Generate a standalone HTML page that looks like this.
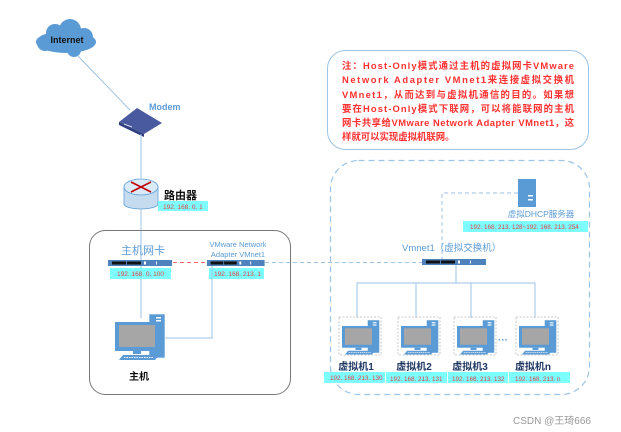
<!DOCTYPE html>
<html><head><meta charset="utf-8"><style>
html,body{margin:0;padding:0;background:#fff;}
svg{display:block;}
text{font-family:"Liberation Sans","Noto Sans CJK SC",sans-serif;}
</style></head><body>
<svg width="621" height="432" viewBox="0 0 621 432" xmlns="http://www.w3.org/2000/svg">
<defs>
<g id="pc">
  <rect x="34" y="0" width="16" height="44" fill="#5b9bd5" stroke="#fff" stroke-width="0.6"/>
  <rect x="41" y="3" width="5" height="1.5" fill="#fff"/>
  <rect x="41" y="6" width="5" height="1.5" fill="#fff"/>
  <rect x="0" y="8" width="44" height="29" fill="#5b9bd5"/>
  <rect x="4" y="11" width="36" height="22" fill="#a6a6a6"/>
  <rect x="18" y="37" width="8" height="3" fill="#5b9bd5"/>
  <polygon points="4,46 40,46 44,41 8,41" fill="#5b9bd5"/>
  <line x1="9" y1="43.5" x2="39" y2="43.5" stroke="#fff" stroke-width="1" stroke-dasharray="1.5 1"/>
</g>
<g id="vpc">
  <rect x="-3" y="-3" width="42" height="38" fill="none" stroke="#bbb" stroke-width="0.8" stroke-dasharray="2 1.5"/>
  <g transform="scale(0.75)"><use href="#pc"/></g>
</g>
<g id="nic">
  <rect x="0" y="0" width="64" height="6" fill="#4f81bd"/>
  <rect x="4" y="1.5" width="14" height="3" fill="#111"/>
  <rect x="19" y="1.5" width="14" height="3" fill="#111"/>
  <rect x="36" y="1.5" width="2" height="3" fill="#fff"/>
  <rect x="48" y="1.5" width="1" height="3" fill="#fff"/>
</g>
</defs>

<g fill="#5b9bd5">
<ellipse cx="66" cy="42" rx="30" ry="11"/>
<circle cx="55" cy="33" r="9"/><circle cx="70" cy="30" r="11"/><circle cx="84" cy="37" r="9"/>
<circle cx="45" cy="43" r="8"/><circle cx="74" cy="50" r="7"/>
</g>
<text x="67" y="43" font-size="9" font-weight="bold" text-anchor="middle" fill="#111">Internet</text>
<line x1="78" y1="56" x2="130" y2="110" stroke="#9dc3e6" stroke-width="1"/>

<polygon points="119,122 137,108 162,123 144,134" fill="#4a5a9f"/>
<polygon points="119,122 144,134 144,137 119,125" fill="#2f3f80"/>
<line x1="124" y1="124" x2="132" y2="127" stroke="#fff" stroke-width="0.8"/>
<text x="149" y="110" font-size="9" font-weight="bold" fill="#5b9bd5">Modem</text>
<line x1="141" y1="134" x2="141" y2="178" stroke="#9dc3e6"/>

<rect x="124" y="187" width="34" height="17" fill="#c5dcf0" stroke="#5b9bd5" stroke-width="0.8"/>
<ellipse cx="141" cy="204" rx="17" ry="5" fill="#c5dcf0" stroke="#5b9bd5" stroke-width="0.8"/>
<rect x="124.4" y="187" width="33.2" height="17" fill="#c5dcf0"/>
<ellipse cx="141" cy="187" rx="17" ry="8" fill="#dbeaf7" stroke="#5b9bd5" stroke-width="0.8"/>
<g stroke="#c00000" stroke-width="1.6">
<line x1="131" y1="182" x2="151" y2="192"/><line x1="131" y1="192" x2="151" y2="182"/>
</g>
<text x="164" y="199" font-size="11" font-weight="bold" fill="#111">路由器</text>
<rect x="158" y="201" width="50" height="10" fill="#66ffff" opacity="0.85"/>
<text x="163" y="209" font-size="6.5" fill="#e04040">192. 168. 0. 1</text>
<line x1="141" y1="208" x2="141" y2="318" stroke="#9dc3e6"/>

<rect x="89.5" y="230.5" width="201" height="164" rx="16" fill="none" stroke="#777" stroke-width="1"/>
<text x="121" y="254" font-size="11" fill="#5b9bd5">主机网卡</text>
<use href="#nic" x="108" y="260"/>
<rect x="110" y="268" width="61" height="11" fill="#66ffff" opacity="0.85"/>
<text x="117" y="276" font-size="6.5" fill="#e04040">192. 168. 0. 100</text>
<line x1="173" y1="262.5" x2="207" y2="262.5" stroke="#ff6b6b" stroke-dasharray="4 3"/>
<text x="238" y="247" font-size="7.5" fill="#5b9bd5" text-anchor="middle">VMware Network</text>
<text x="238" y="257" font-size="7.5" fill="#5b9bd5" text-anchor="middle">Adapter VMnet1</text>
<g transform="translate(207,260) scale(0.9,1)"><use href="#nic"/></g>
<rect x="209" y="268" width="55" height="11" fill="#66ffff" opacity="0.85"/>
<text x="214" y="276" font-size="6.5" fill="#e04040">192. 168. 213. 1</text>
<line x1="265" y1="262.5" x2="422" y2="262.5" stroke="#9dc3e6" stroke-dasharray="4 3"/>
<polyline points="212,266 212,338 165,338" fill="none" stroke="#9dc3e6"/>
<use href="#pc" x="115" y="314"/>
<text x="139" y="380" font-size="10" font-weight="bold" text-anchor="middle" fill="#111">主机</text>

<rect x="327.5" y="50.5" width="261" height="99" rx="18" fill="none" stroke="#9dc3e6" stroke-width="1"/>
<g font-size="9.4" font-weight="bold" fill="#ff3030">
<text x="342" y="69" textLength="232" lengthAdjust="spacing">注：Host-Only模式通过主机的虚拟网卡VMware</text>
<text x="342" y="83" textLength="232" lengthAdjust="spacing">Network Adapter VMnet1来连接虚拟交换机</text>
<text x="342" y="98" textLength="232" lengthAdjust="spacing">VMnet1，从而达到与虚拟机通信的目的。如果想</text>
<text x="342" y="112" textLength="232" lengthAdjust="spacing">要在Host-Only模式下联网，可以将能联网的主机</text>
<text x="342" y="126" textLength="232" lengthAdjust="spacing">网卡共享给VMware Network Adapter VMnet1，这</text>
<text x="342" y="140">样就可以实现虚拟机联网。</text>
</g>

<rect x="330.5" y="160.5" width="259" height="234" rx="28" fill="none" stroke="#9dc3e6" stroke-width="1.2" stroke-dasharray="6 4"/>
<rect x="518" y="179" width="18" height="28" fill="#5b9bd5"/>
<rect x="528" y="195" width="5" height="1.5" fill="#fff"/><rect x="528" y="199" width="5" height="1.5" fill="#fff"/>
<polyline points="518,193 442,193 442,260" fill="none" stroke="#9dc3e6" stroke-dasharray="4 3"/>
<text x="541" y="217" font-size="8.5" text-anchor="middle" fill="#5b9bd5">虚拟DHCP服务器</text>
<rect x="463" y="221" width="125" height="11" fill="#66ffff" opacity="0.85"/>
<text x="470" y="229" font-size="6.3" fill="#e04040">192. 168. 213. 128~192. 168. 213. 254</text>
<text x="402" y="251" font-size="9.5" fill="#5b9bd5">Vmnet1（虚拟交换机）</text>
<use href="#nic" x="422" y="259"/>
<line x1="456" y1="265" x2="456" y2="283" stroke="#9dc3e6"/>
<polyline points="357,318 357,283 535,283 535,318" fill="none" stroke="#9dc3e6"/>
<line x1="416" y1="283" x2="416" y2="318" stroke="#9dc3e6"/>
<line x1="471" y1="283" x2="471" y2="318" stroke="#9dc3e6"/>
<use href="#vpc" x="342" y="320"/>
<use href="#vpc" x="401" y="320"/>
<use href="#vpc" x="457" y="320"/>
<use href="#vpc" x="519" y="320"/>
<text x="498" y="343" font-size="10" font-weight="bold" fill="#5b9bd5">···</text>
<g font-size="10" font-weight="bold" fill="#1f3864" text-anchor="middle">
<text x="356" y="370">虚拟机1</text><text x="414" y="370">虚拟机2</text>
<text x="470" y="370">虚拟机3</text><text x="533" y="370">虚拟机n</text>
</g>
<g fill="#66ffff" opacity="0.85">
<rect x="324" y="372" width="61" height="11"/><rect x="386" y="372" width="61" height="11"/>
<rect x="448" y="372" width="60" height="11"/><rect x="509" y="372" width="61" height="11"/>
</g>
<g font-size="6.3" fill="#e04040">
<text x="330" y="380">192. 168. 213. 130</text><text x="390" y="381">192. 168. 213. 131</text>
<text x="452" y="381">192. 168. 213. 132</text><text x="515" y="381">192. 168. 213. n</text>
</g>
<text x="513" y="424" font-size="10" fill="#999">CSDN @王琦666</text>
</svg>
</body></html>
